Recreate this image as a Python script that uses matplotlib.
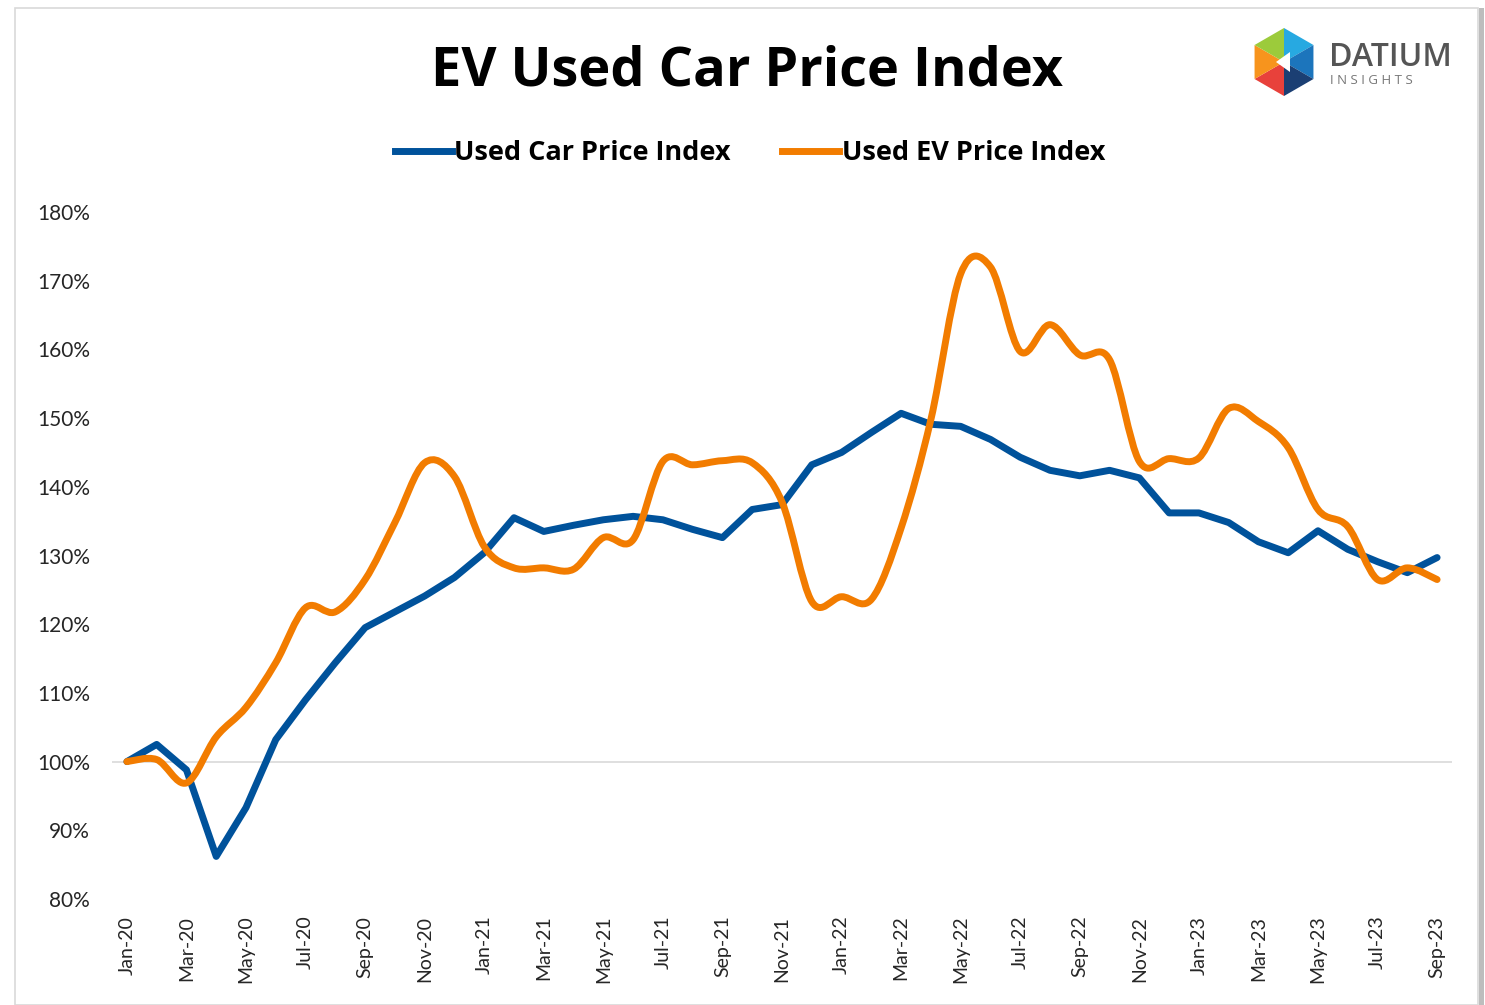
import numpy as np
import matplotlib
matplotlib.use('Agg')
import matplotlib.pyplot as plt
from matplotlib.path import Path
from matplotlib.patches import PathPatch, Polygon, Rectangle
from matplotlib.lines import Line2D

# monthly labels Jan-20 .. Sep-23
months = ['Jan', 'Feb', 'Mar', 'Apr', 'May', 'Jun', 'Jul', 'Aug', 'Sep', 'Oct', 'Nov', 'Dec']
labels = ['%s-%d' % (months[i % 12], 20 + i // 12) for i in range(45)]

used_car = [100.0, 102.5, 98.8, 86.2, 93.3, 103.2, 109.0, 114.4, 119.5, 121.8, 124.1, 126.8,
            130.4, 135.5, 133.5, 134.4, 135.2, 135.7, 135.2, 133.8, 132.6, 136.7, 137.4, 143.2,
            145.0, 147.9, 150.7, 149.1, 148.8, 146.9, 144.3, 142.4, 141.6, 142.4, 141.3, 136.2,
            136.2, 134.8, 132.0, 130.4, 133.6, 130.9, 129.1, 127.5, 129.7]

used_ev = [100.0, 100.3, 96.9, 103.6, 107.9, 114.4, 122.4, 121.8, 126.5, 134.8, 143.5, 141.5,
           131.3, 128.2, 128.2, 128.0, 132.6, 132.3, 143.7, 143.2, 143.8, 143.5, 137.8, 123.3,
           124.0, 123.6, 134.0, 149.8, 171.0, 172.0, 159.7, 163.6, 159.2, 158.5, 143.7, 144.1,
           144.2, 151.4, 149.5, 145.7, 136.7, 134.2, 126.5, 128.2, 126.5]

BLUE = '#00529B'
ORANGE = '#F27C00'


def smooth_path(xs, ys):
    # excel style smoothed line: bezier through every point
    pts = np.column_stack([xs, ys])
    verts = [pts[0]]
    codes = [Path.MOVETO]
    n = len(pts)
    for i in range(n - 1):
        p0 = pts[max(i - 1, 0)]
        p1 = pts[i]
        p2 = pts[i + 1]
        p3 = pts[min(i + 2, n - 1)]
        c1 = p1 + (p2 - p0) / 6.0
        c2 = p2 - (p3 - p1) / 6.0
        verts += [c1, c2, p2]
        codes += [Path.CURVE4] * 3
    return Path(verts, codes)


fig = plt.figure(figsize=(14.85, 10.05), dpi=100)
fig.patch.set_facecolor('white')

# chart frame
fig.patches.append(Rectangle((15 / 1485, 0), 1463 / 1485, 0.992, transform=fig.transFigure,
                             fill=False, edgecolor='#d9d9d9', linewidth=1.2))
fig.patches.append(Rectangle((1479 / 1485, 0), 5 / 1485, 0.992, transform=fig.transFigure,
                             facecolor='#bdbdbd', edgecolor='none'))

ax = fig.add_axes([112 / 1485, 1 - 899 / 1005, 1340 / 1485, 687 / 1005])
x = np.arange(len(labels))

ax.axhline(100, color='#d9d9d9', linewidth=1.2, zorder=1)
ax.plot(x, used_car, color=BLUE, linewidth=5, solid_joinstyle='round',
        solid_capstyle='round', zorder=3)
ax.add_patch(PathPatch(smooth_path(x, used_ev), facecolor='none', edgecolor=ORANGE,
                       linewidth=5, capstyle='round', joinstyle='round', zorder=4))

ax.set_xlim(-0.5, len(labels) - 0.5)
ax.set_ylim(80, 180)
ax.set_yticks(np.arange(80, 181, 10))
ax.set_yticklabels(['%d%%' % v for v in range(80, 181, 10)], fontsize=15,
                   family='Lato', color='#262626')
ax.set_xticks(x[::2])
ax.set_xticklabels(labels[::2], rotation=90, fontsize=14, family='Lato', color='#262626')
ax.tick_params(axis='y', length=0, pad=16)
ax.tick_params(axis='x', length=0, pad=12)
for s in ax.spines.values():
    s.set_visible(False)

fig.text(0.503, 1 - 72 / 1005, 'EV Used Car Price Index', ha='center', va='center',
         fontsize=39, fontweight='bold', family='Open Sans', color='black')

handles = [Line2D([], [], color=BLUE, linewidth=5),
           Line2D([], [], color=ORANGE, linewidth=5)]
fig.legend(handles, ['Used Car Price Index', 'Used EV Price Index'], loc='center',
           bbox_to_anchor=(0.505, 1 - 153 / 1005), ncol=2, frameon=False,
           prop={'family': 'Open Sans', 'weight': 'bold', 'size': 19.5},
           handlelength=2.1, handletextpad=0.1, columnspacing=1.9)

# Datium logo, rough
cx, cy, r = 1284, 62, 34
hexpts = [(cx + r * np.cos(np.radians(90 + 60 * k)), cy + r * np.sin(np.radians(90 + 60 * k)))
          for k in range(6)]
logo_cols = ['#e8413b', '#f7941d', '#9ccb3b', '#27a9e1', '#1c75bc', '#1b3f73']
for k in range(6):
    a = hexpts[k]
    b = hexpts[(k + 1) % 6]
    tri = [(a[0] / 1485, 1 - a[1] / 1005), (b[0] / 1485, 1 - b[1] / 1005),
           (cx / 1485, 1 - cy / 1005)]
    fig.patches.append(Polygon(tri, closed=True, transform=fig.transFigure,
                               facecolor=logo_cols[k], edgecolor='none'))
inner = [(cx - 8, cy), (cx + 6, cy - 10), (cx + 6, cy + 10)]
fig.patches.append(Polygon([(px / 1485, 1 - py / 1005) for px, py in inner], closed=True,
                           transform=fig.transFigure, facecolor='white', edgecolor='none'))
fig.text(1329 / 1485, 1 - 57 / 1005, 'DATIUM', ha='left', va='center', fontsize=23,
         family='Open Sans', fontweight='semibold', color='#555555')
fig.text(1330 / 1485, 1 - 80 / 1005, 'I N S I G H T S', ha='left', va='center', fontsize=9.5,
         family='Open Sans', color='#777777')

fig.savefig('out.png', dpi=100, facecolor='white')
